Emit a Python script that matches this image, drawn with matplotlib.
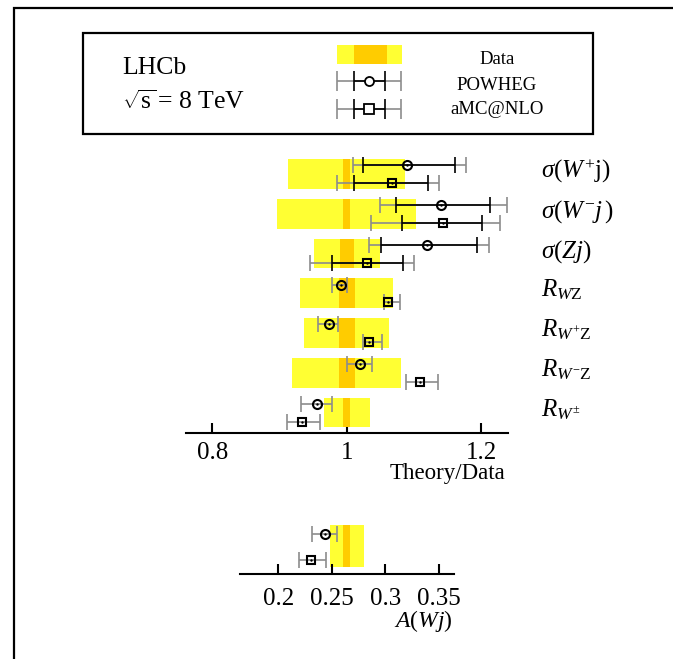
import numpy as np
import matplotlib
matplotlib.use("Agg")
import matplotlib.pyplot as plt
from matplotlib.patches import Rectangle
from matplotlib.transforms import blended_transform_factory

plt.rcParams['font.family'] = ['Liberation Serif', 'DejaVu Serif']
plt.rcParams['mathtext.fontset'] = 'custom'
plt.rcParams['mathtext.rm'] = 'Liberation Serif'
plt.rcParams['mathtext.it'] = 'Liberation Serif:italic'
plt.rcParams['mathtext.bf'] = 'Liberation Serif:bold'

# ---- data (Theory/Data ratios) ----
labels = [r'$\sigma(W^{+}\mathrm{j})$', r'$\sigma(W^{-}j\,)$', r'$\sigma(Zj)$',
          r'$R_{W\mathrm{Z}}$', r'$R_{W^{+}\mathrm{Z}}$', r'$R_{W^{-}\mathrm{Z}}$', r'$R_{W^{\pm}}$']
data_tot = [0.087, 0.1035, 0.049, 0.069, 0.063, 0.081, 0.034]
data_stat = [0.005, 0.0057, 0.0106, 0.0117, 0.0117, 0.0117, 0.0057]

powheg = [1.0896, 1.1406, 1.1189, 0.991, 0.974, 1.0198, 0.9554]
powheg_in_lo = [0.0649, 0.0673, 0.0679, 0, 0, 0, 0]
powheg_in_hi = [0.0714, 0.0724, 0.0751, 0, 0, 0, 0]
powheg_out_lo = [0.0807, 0.0916, 0.0853, 0.0124, 0.0163, 0.0198, 0.0233]
powheg_out_hi = [0.0884, 0.0974, 0.0925, 0.0099, 0.0134, 0.0183, 0.0233]

amc = [1.0668, 1.1426, 1.0306, 1.0618, 1.0336, 1.109, 0.933]
amc_in_lo = [0.056, 0.060, 0.0526, 0, 0, 0, 0]
amc_in_hi = [0.0545, 0.0594, 0.0534, 0, 0, 0, 0]
amc_out_lo = [0.0818, 0.1066, 0.0856, 0.0064, 0.0096, 0.0208, 0.0223]
amc_out_hi = [0.0708, 0.0854, 0.0699, 0.0172, 0.0184, 0.0272, 0.0272]

main_ticks = [0.8, 1.0, 1.2]
main_ticklabels = ['0.8', '1', '1.2']

# A(Wj) asymmetry
asym_data = 0.2638
asym_tot = 0.0159
asym_stat = 0.0035
asym_powheg = 0.2433
asym_powheg_err = (0.0115, 0.0118)
asym_amc = 0.2306
asym_amc_err = (0.0115, 0.0143)
asym_ticks = [0.2, 0.25, 0.3, 0.35]
asym_ticklabels = ['0.2', '0.25', '0.3', '0.35']

YEL = '#ffff33'
ORA = '#ffcc00'
GRY = '#8c8c8c'

W, H = 673, 659
fig = plt.figure(figsize=(W / 100, H / 100), dpi=100)

def fig_rect(x0, y0, x1, y1):
    # pixel box (top-left origin) -> figure fraction
    return [x0 / W, 1 - y1 / H, (x1 - x0) / W, (y1 - y0) / H]

def draw_point(ax, x, y, lo_in, hi_in, lo_out, hi_out, marker, ms):
    ax.errorbar([x], [y], xerr=[[lo_out], [hi_out]], fmt='none', ecolor=GRY,
                elinewidth=1.2, capsize=5.5, capthick=1.2, zorder=3)
    if lo_in > 0:
        ax.errorbar([x], [y], xerr=[[lo_in], [hi_in]], fmt='none', ecolor='black',
                    elinewidth=1.2, capsize=5.5, capthick=1.2, zorder=4)
    ax.plot([x], [y], marker=marker, ms=ms, mfc='none', mec='black', mew=1.5,
            ls='none', zorder=5)
    ax.plot([x], [y], marker='.', ms=1.5, color='black', ls='none', zorder=6)

# ---- main panel ----
ax = fig.add_axes(fig_rect(186, 150, 508, 432.7))
ax.set_xlim(0.761, 1.24)
ax.set_ylim(6.508, -0.604)
half = 0.377
off_c, off_s = -0.22, 0.23
for i in range(len(labels)):
    ax.add_patch(Rectangle((1 - data_tot[i], i - half), 2 * data_tot[i], 2 * half,
                           facecolor=YEL, edgecolor='none', zorder=1))
    ax.add_patch(Rectangle((1 - data_stat[i], i - half), 2 * data_stat[i], 2 * half,
                           facecolor=ORA, edgecolor='none', zorder=2))
    draw_point(ax, powheg[i], i + off_c, powheg_in_lo[i], powheg_in_hi[i],
               powheg_out_lo[i], powheg_out_hi[i], 'o', 6.5)
    draw_point(ax, amc[i], i + off_s, amc_in_lo[i], amc_in_hi[i],
               amc_out_lo[i], amc_out_hi[i], 's', 6)

trans = blended_transform_factory(fig.transFigure, ax.transData)
for i, lab in enumerate(labels):
    ax.text(541 / W, i + 0.09, lab, transform=trans, fontsize=18,
            ha='left', va='baseline', clip_on=False)

for s in ['top', 'left', 'right']:
    ax.spines[s].set_visible(False)
ax.spines['bottom'].set_linewidth(1.5)
ax.set_yticks([])
ax.set_xticks(main_ticks)
ax.set_xticklabels(main_ticklabels)
ax.tick_params(axis='x', direction='in', length=7.5, width=1.5, pad=7, labelsize=18)
ax.patch.set_visible(False)
fig.text(505 / W, 1 - 478.5 / H, 'Theory/Data', fontsize=16.5, ha='right', va='baseline')

# ---- A(Wj) panel ----
ax2 = fig.add_axes(fig_rect(240, 515, 454.3, 574.3))
ax2.set_xlim(0.1643, 0.3643)
ax2.set_ylim(28.15, -31.15)
ax2.add_patch(Rectangle((asym_data - asym_tot, -21.15), 2 * asym_tot, 42.3,
                        facecolor=YEL, edgecolor='none', zorder=1))
ax2.add_patch(Rectangle((asym_data - asym_stat, -21.15), 2 * asym_stat, 42.3,
                        facecolor=ORA, edgecolor='none', zorder=2))
draw_point(ax2, asym_powheg, -12, 0, 0, asym_powheg_err[0], asym_powheg_err[1], 'o', 6.5)
draw_point(ax2, asym_amc, 14, 0, 0, asym_amc_err[0], asym_amc_err[1], 's', 6)
for s in ['top', 'left', 'right']:
    ax2.spines[s].set_visible(False)
ax2.spines['bottom'].set_linewidth(1.5)
ax2.set_yticks([])
ax2.set_xticks(asym_ticks)
ax2.set_xticklabels(asym_ticklabels)
ax2.tick_params(axis='x', direction='in', length=7.5, width=1.5, pad=10, labelsize=18)
ax2.patch.set_visible(False)
fig.text(453 / W, 1 - 627 / H, r'$A(Wj)$', fontsize=17, ha='right', va='baseline')

# ---- frame and legend box (pixel coordinates) ----
ov = fig.add_axes([0, 0, 1, 1], zorder=-1)
ov.set_xlim(0, W)
ov.set_ylim(H, 0)
ov.axis('off')
ov.plot([13.5, 13.5, W + 5], [H + 5, 8.3, 8.3], color='black', lw=1.6,
        solid_joinstyle='miter', clip_on=False)
ov.add_patch(Rectangle((83, 33), 510, 101, facecolor='none', edgecolor='black', lw=1.6))
ov.text(122, 68, 'LHCb', fontsize=18.5, ha='left', va='center')
ov.text(122, 102, r'$\sqrt{\mathrm{s}}\!$ = 8 TeV', fontsize=18.5, ha='left', va='center')

ov.add_patch(Rectangle((337, 45), 65, 19, facecolor=YEL, edgecolor='none'))
ov.add_patch(Rectangle((354, 45), 33, 19, facecolor=ORA, edgecolor='none'))
for yy, mk in [(81, 'o'), (109, 's')]:
    ov.errorbar([369], [yy], xerr=[[32], [32]], fmt='none', ecolor=GRY,
                elinewidth=1.2, capsize=7, capthick=1.2)
    ov.errorbar([369], [yy], xerr=[[15.5], [15.5]], fmt='none', ecolor='black',
                elinewidth=1.2, capsize=7, capthick=1.2)
    ov.plot([369], [yy], marker=mk, ms=6.5, mfc='white', mec='black', mew=1.3, ls='none')
ov.text(497, 60, 'Data', fontsize=13.5, ha='center', va='center')
ov.text(497, 85, 'POWHEG', fontsize=13.5, ha='center', va='center')
ov.text(497, 110, 'aMC@NLO', fontsize=13.5, ha='center', va='center')

fig.savefig('out.png', dpi=100)
